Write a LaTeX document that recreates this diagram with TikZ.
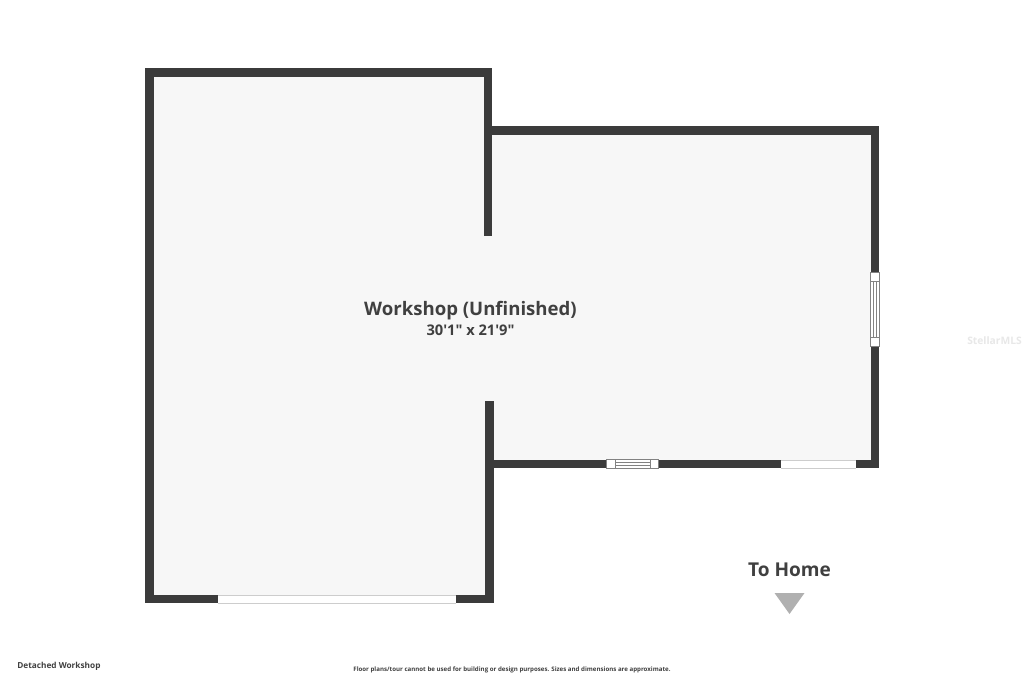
\documentclass[tikz,border=0pt]{standalone}
\usepackage{fontspec}
\newfontfamily\planfont{Open Sans}
\usepackage{tikz}
\definecolor{wallcol}{RGB}{59,59,59}
\definecolor{floorcol}{RGB}{247,247,247}
\definecolor{textcol}{RGB}{64,64,64}
\definecolor{arrowcol}{RGB}{176,176,176}
\definecolor{framecol}{RGB}{130,130,130}
\definecolor{sillcol}{RGB}{205,205,205}
\definecolor{markcol}{RGB}{232,232,232}
\tikzset{
  wall/.style={fill=wallcol,draw=none},
  opening/.style={fill=white,draw=none},
  frameline/.style={draw=framecol,line width=0.5},
  sill/.style={draw=sillcol,line width=0.75},
  plantext/.style={inner sep=0.75pt,text=textcol}
}
\begin{document}
\begin{tikzpicture}[x=0.75pt,y=0.75pt,yscale=-1,xscale=1]
\useasboundingbox (0,0) rectangle (1024,682);
\fill[white] (0,0) rectangle (1024,682);

%Floor
\fill [floorcol] (150,72) -- (488,72) -- (488,130) -- (875,130) -- (875,464) -- (489,464) -- (489,599) -- (150,599) -- cycle ;

%Walls
\fill [wall] (145,68) rectangle (492,77) ;
\fill [wall] (145,68) rectangle (154,603) ;
\fill [wall] (145,595) rectangle (493.5,603) ;
\fill [wall] (483.5,68) rectangle (492,235.5) ;
\fill [wall] (485,400.5) rectangle (493.5,603) ;
\fill [wall] (488,125.5) rectangle (879,134.5) ;
\fill [wall] (870.5,125.5) rectangle (879,468) ;
\fill [wall] (489,459.5) rectangle (879,468) ;

%Garage door
\fill [opening] (218,595) rectangle (456,603) ;
\draw [sill] (218,595.3) -- (456,595.3) ;
\draw [sill] (218,603) -- (456,603) ;

%Door in lower wall
\fill [opening] (781,459.5) rectangle (856,468) ;
\draw [sill] (781,460) -- (856,460) ;
\draw [sill] (781,468) -- (856,468) ;

%Window in lower wall
\fill [opening] (606.7,459.5) rectangle (658,468) ;
\draw [frameline] (606.7,459.7) rectangle (658,468) ;
\draw [frameline] (615,459.7) rectangle (650,468) ;
\draw [frameline] (615,462.7) -- (650,462.7) ;
\draw [frameline] (615,465) -- (650,465) ;

%Window in right wall
\fill [opening] (870.5,272.7) rectangle (879,346) ;
\draw [frameline] (870.7,272.7) rectangle (879,346) ;
\draw [frameline] (870.7,281.7) rectangle (879,337.3) ;
\draw [frameline] (873.7,281.7) -- (873.7,337.3) ;
\draw [frameline] (876,281.7) -- (876,337.3) ;

%Arrow
\fill [arrowcol] (774.5,593) -- (804.5,593) -- (789.5,614) -- cycle ;

% Text Node
\node (roomname) [plantext,font=\planfont\fontsize{13.95}{17}\bfseries] at (470.5,311) {Workshop (Unfinished)};
% Text Node
\node (roomsize) [plantext,font=\planfont\fontsize{11}{13}\bfseries] at (470.5,330) {30'1" x 21'9"};
% Text Node
\node (tohome) [plantext,font=\planfont\fontsize{14.3}{17}\bfseries] at (789.5,570) {To Home};
% Text Node
\node (planname) [plantext,anchor=west,font=\planfont\fontsize{6.2}{8}\bfseries] at (16,666.5) {Detached Workshop};
% Text Node
\node (disclaimer) [plantext,font=\planfont\fontsize{4.6}{6}\bfseries] at (512,670) {Floor plans/tour cannot be used for building or design purposes. Sizes and dimensions are approximate.};
% Text Node
\node (watermark) [inner sep=0.75pt,text=markcol,font=\planfont\fontsize{7.7}{10}\bfseries] at (994.5,341) {StellarMLS};
\end{tikzpicture}
\end{document}
